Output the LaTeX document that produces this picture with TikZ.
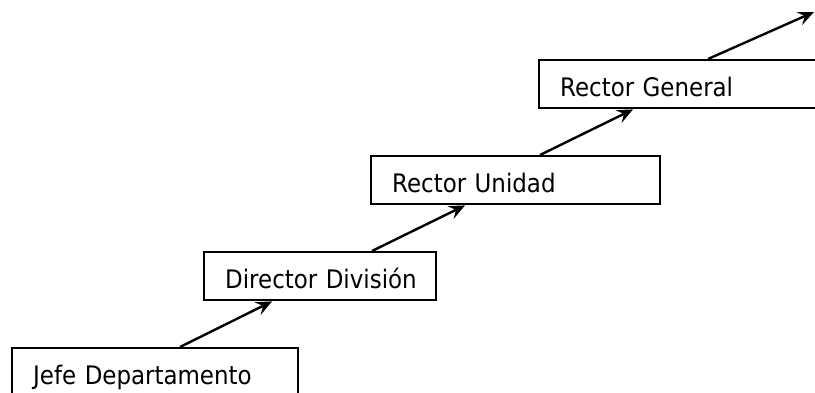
\documentclass[tikz,border=0pt]{standalone}
\usepackage{fontspec}
\setmainfont{DejaVu Sans Condensed}
\usetikzlibrary{arrows.meta,calc}
\tikzset{
  rank/.style={draw=black, line width=2.4pt, rectangle, anchor=north west,
    inner xsep=21pt, inner ysep=0pt, text height=36pt, text depth=12pt,
    align=left, font=\fontsize{25.5}{30}\selectfont},
  promote/.style={draw=black, line width=2.4pt,
    -{Stealth[length=16pt,width=14pt,inset=6pt]}}
}
\begin{document}
\begin{tikzpicture}[x=1pt,y=-1pt]
  \useasboundingbox (0,0) rectangle (815,392);
  \clip (0,0) rectangle (815,392);
  % ranks, bottom to top
  \node[rank, text width=244pt] (jefe) at (11,347) {\mbox{Jefe Departamento}};
  \node[rank, text width=190pt] (director) at (203,251) {\mbox{Director División}};
  \node[rank, text width=247pt] (unidad) at (370,155) {\mbox{Rector Unidad}};
  \node[rank, text width=260pt] (general) at (538,59) {\mbox{Rector General}};
  \coordinate (beyond) at (814,12);
  % upward steps
  \draw[promote] ($(jefe.north west)+(169,0)$) -- ($(director.south west)+(69,0)$);
  \draw[promote] ($(director.north west)+(169,0)$) -- ($(unidad.south west)+(95,0)$);
  \draw[promote] ($(unidad.north west)+(170,0)$) -- ($(general.south west)+(95,0)$);
  \draw[promote] ($(general.north west)+(170,0)$) -- (beyond);
\end{tikzpicture}
\end{document}
